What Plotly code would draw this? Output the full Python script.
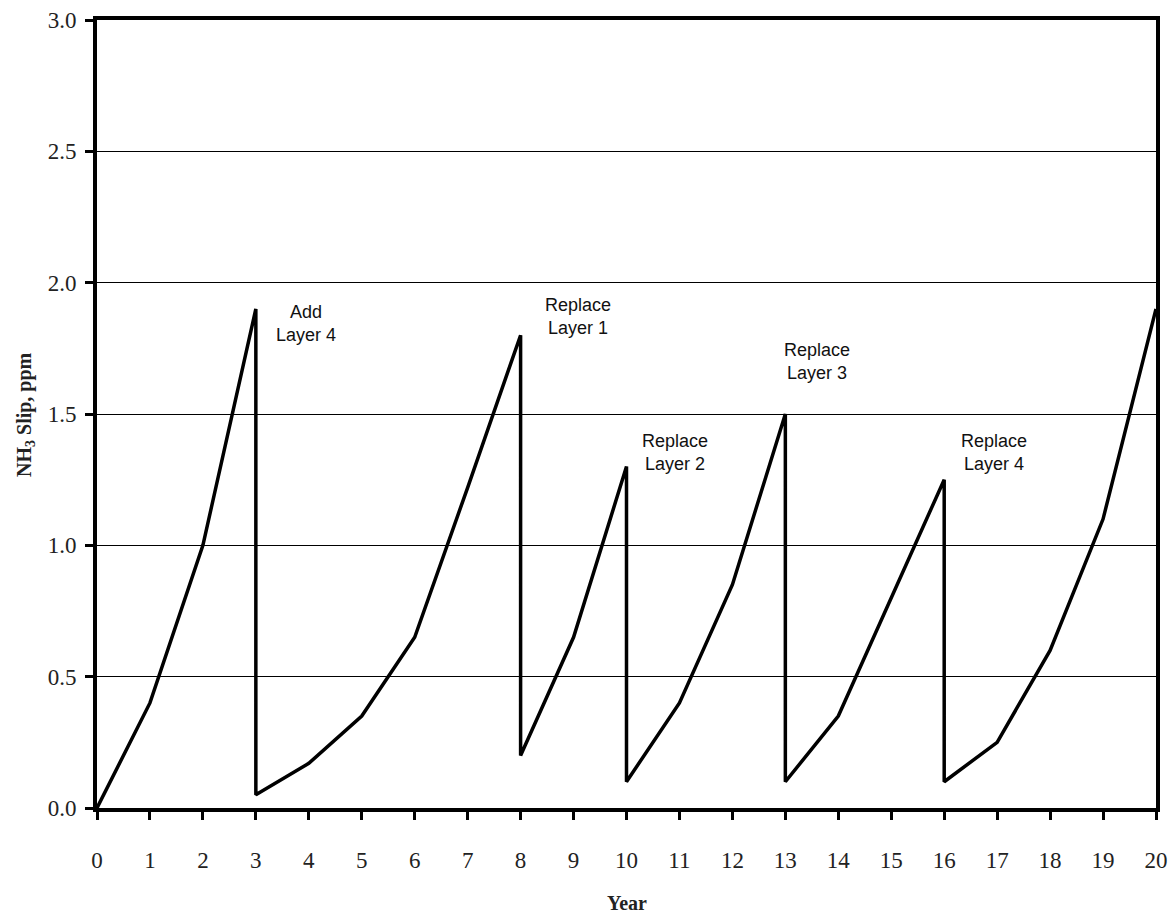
import plotly.graph_objects as go

years = [0, 1, 2, 3, 3, 4, 5, 6, 7, 8, 8, 9, 10, 10, 11, 12, 13, 13, 14, 15, 16, 16, 17, 18, 19, 20]
slip = [0.0, 0.4, 1.0, 1.9, 0.05, 0.17, 0.35, 0.65, 1.22, 1.8, 0.2, 0.65, 1.3, 0.1, 0.4, 0.85, 1.5, 0.1, 0.35, 0.8, 1.25, 0.1, 0.25, 0.6, 1.1, 1.9]

note_text = ["Add<br>Layer 4", "Replace<br>Layer 1", "Replace<br>Layer 2", "Replace<br>Layer 3", "Replace<br>Layer 4"]
note_x = [3.95, 9.09, 10.91, 13.59, 16.94]
note_y = [1.846, 1.873, 1.355, 1.70, 1.355]

x_ticks = list(range(0, 21))
y_ticks = [0.0, 0.5, 1.0, 1.5, 2.0, 2.5, 3.0]

x_title = "Year"
y_title = "NH<sub>3</sub> Slip, ppm"

fig = go.Figure()
fig.add_trace(go.Scatter(x=years, y=slip, mode="lines",
                         line=dict(color="black", width=3.5),
                         showlegend=False))

for t, x, y in zip(note_text, note_x, note_y):
    fig.add_annotation(x=x, y=y, text=t, showarrow=False, xanchor="center", yanchor="middle",
                       font=dict(family="Liberation Sans", size=18, color="#111"))

# axis titles
fig.add_annotation(xref="paper", yref="paper", x=0.5, y=-0.1206, text=f"<b>{x_title}</b>",
                   showarrow=False, xanchor="center", yanchor="middle",
                   font=dict(family="Liberation Serif", size=20, color="#222"))
fig.add_annotation(xref="paper", yref="paper", x=-0.068, y=0.5, text=f"<b>{y_title}</b>",
                   showarrow=False, xanchor="center", yanchor="middle", textangle=-90,
                   font=dict(family="Liberation Serif", size=20, color="#222"))

fig.update_layout(
    width=1172, height=913,
    margin=dict(l=97, r=16, t=20, b=105),
    paper_bgcolor="white", plot_bgcolor="white",
    font=dict(family="Liberation Serif", color="black"),
)
fig.update_xaxes(range=[0, 20], tickvals=x_ticks, ticktext=[str(v) for v in x_ticks],
                 automargin=False,
                 showgrid=False, zeroline=False,
                 showline=True, linecolor="black", linewidth=4, mirror=True,
                 ticks="outside", ticklen=8, tickwidth=3, tickcolor="black",
                 ticklabelstandoff=20,
                 tickfont=dict(family="Liberation Serif", size=23, color="#222"))
fig.update_yaxes(range=[0, 3], tickvals=y_ticks, ticktext=[f"{v:.1f}" for v in y_ticks],
                 automargin=False,
                 showgrid=True, gridcolor="black", gridwidth=1, zeroline=False,
                 showline=True, linecolor="black", linewidth=4, mirror=True,
                 ticks="outside", ticklen=8, tickwidth=3, tickcolor="black",
                 ticklabelstandoff=4,
                 tickfont=dict(family="Liberation Serif", size=23, color="#222"))

fig.write_html("out.html")
